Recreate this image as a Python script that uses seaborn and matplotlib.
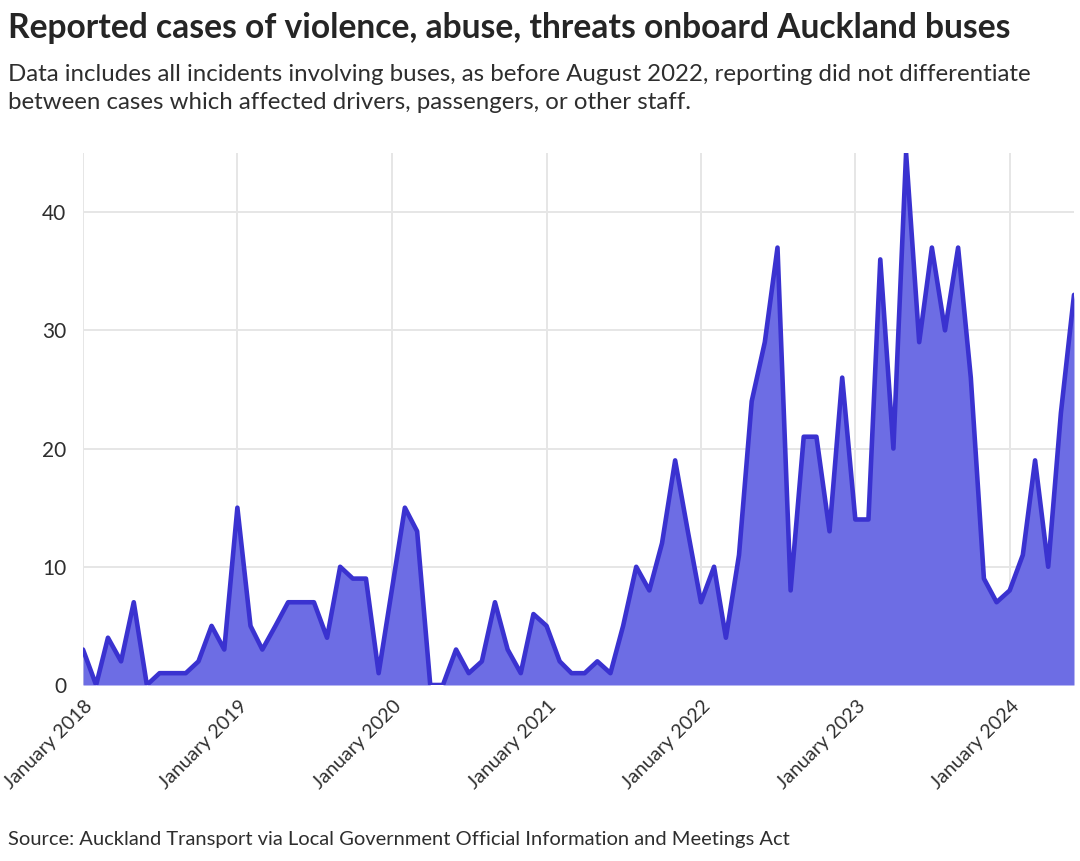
"""
Auckland bus incidents - monthly reported cases of violence, abuse, threats
"""

import matplotlib.dates as mdates
import matplotlib.pyplot as plt
import matplotlib.transforms as mtransforms
import pandas as pd
import seaborn as sns

# -----------------------------
# Data
# -----------------------------
START_MONTH = "2018-01-01"

cases_2018 = [3, 0, 4, 2, 7, 0, 1, 1, 1, 2, 5, 3]
cases_2019 = [15, 5, 3, 5, 7, 7, 7, 4, 10, 9, 9, 1]
cases_2020 = [8, 15, 13, 0, 0, 3, 1, 2, 7, 3, 1, 6]
cases_2021 = [5, 2, 1, 1, 2, 1, 5, 10, 8, 12, 19, 13]
cases_2022 = [7, 10, 4, 11, 24, 29, 37, 8, 21, 21, 13, 26]
cases_2023 = [14, 14, 36, 20, 45, 29, 37, 30, 37, 26, 9, 7]
cases_2024 = [8, 11, 19, 10, 23, 33]

y_ticks = [0, 10, 20, 30, 40]
tick_years = [2018, 2019, 2020, 2021, 2022, 2023, 2024]

TITLE = "Reported cases of violence, abuse, threats onboard Auckland buses"
SUBTITLE = ("Data includes all incidents involving buses, as before August 2022, reporting did not differentiate\n"
            "between cases which affected drivers, passengers, or other staff.")
SOURCE = "Source: Auckland Transport via Local Government Official Information and Meetings Act"

LINE_COLOR = "#3a32d0"
FILL_COLOR = "#6d6de4"
GRID_COLOR = "#e6e6e6"
TEXT_COLOR = "#2e2e2e"

sns.set_theme(style="whitegrid")
plt.rcParams["font.family"] = ["Lato", "DejaVu Sans"]

# -----------------------------
# Build frame
# -----------------------------
cases = cases_2018 + cases_2019 + cases_2020 + cases_2021 + cases_2022 + cases_2023 + cases_2024
df = pd.DataFrame({
    "month": pd.date_range(START_MONTH, periods=len(cases), freq="MS"),
    "cases": cases,
})

# -----------------------------
# Plot
# -----------------------------
W, H = 1080, 861
fig = plt.figure(figsize=(W / 100, H / 100), dpi=100)
ax = fig.add_axes([83 / W, 1 - 685 / H, (1074 - 83) / W, (685 - 153) / H])

ax.fill_between(df["month"], df["cases"], 0, color=FILL_COLOR, linewidth=0, zorder=2)
sns.lineplot(data=df, x="month", y="cases", color=LINE_COLOR, linewidth=3.3, ax=ax, zorder=3)

ax.set_xlim(df["month"].iloc[0], df["month"].iloc[-1])
ax.set_ylim(0, 45)
ax.set_yticks(y_ticks)
ax.set_xticks([pd.Timestamp(f"{y}-01-01") for y in tick_years])
ax.xaxis.set_major_formatter(mdates.DateFormatter("%B %Y"))

ax.set_xlabel("")
ax.set_ylabel("")
ax.set_facecolor("white")
ax.grid(True, color=GRID_COLOR, linewidth=1.4, zorder=0)
for s in ax.spines.values():
    s.set_visible(False)

ax.tick_params(axis="y", length=8, width=1.4, color=GRID_COLOR, pad=4,
               labelsize=15, labelcolor=TEXT_COLOR)
ax.tick_params(axis="x", length=11, width=1.4, color=GRID_COLOR, pad=2,
               labelsize=14, labelcolor=TEXT_COLOR)
shift = mtransforms.ScaledTranslation(7 / 100, 0, fig.dpi_scale_trans)
for lbl in ax.get_xticklabels():
    lbl.set_rotation(45)
    lbl.set_ha("right")
    lbl.set_va("center")
    lbl.set_rotation_mode("anchor")
    lbl.set_transform(lbl.get_transform() + shift)

fig.text(8 / W, 1 - 28 / H, TITLE, fontsize=24.2, fontweight="bold",
         color="#252525", ha="left", va="center")
fig.text(8 / W, 1 - 64 / H, SUBTITLE, fontsize=17.3, color=TEXT_COLOR,
         ha="left", va="top", linespacing=1.42)
fig.text(8 / W, 1 - 840 / H, SOURCE, fontsize=14.5, color=TEXT_COLOR,
         ha="left", va="center")

fig.savefig("out.png", dpi=100, facecolor="white")
